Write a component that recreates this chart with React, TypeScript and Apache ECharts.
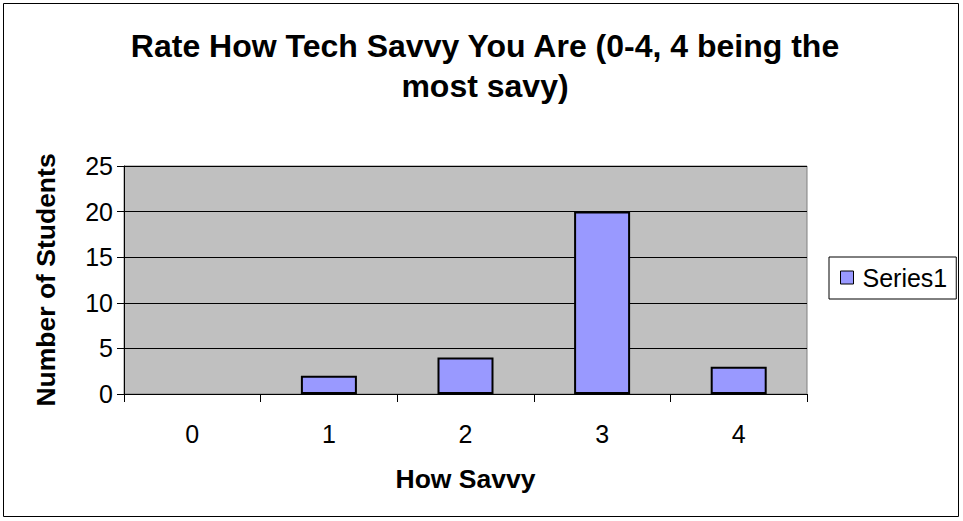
import React, { useEffect, useRef } from "react";
import * as echarts from "echarts";

const categories = ["0", "1", "2", "3", "4"];
const values = [0, 2, 4, 20, 3];
const seriesName = "Series1";
const titleText = "Rate How Tech Savvy You Are (0-4, 4 being the\nmost savy)";
const xName = "How Savvy";
const yName = "Number of Students";

export default function App() {
  const ref = useRef<HTMLDivElement>(null);
  useEffect(() => {
    if (!ref.current) return;
    const chart = echarts.init(ref.current, null, { renderer: "svg" });
    const font = "'Liberation Sans', Arial, sans-serif";
    chart.setOption({
      animation: false,
      backgroundColor: "#fff",
      textStyle: { fontFamily: font },
      title: {
        text: titleText,
        left: 485,
        top: 26,
        textAlign: "center",
        padding: 0,
        textStyle: { fontFamily: font, fontSize: 32, fontWeight: "bold", color: "#000", lineHeight: 40, align: "center" },
      },
      graphic: [
        {
          type: "rect",
          shape: { x: 3.5, y: 3.5, width: 955, height: 513 },
          style: { fill: "none", stroke: "#000", lineWidth: 1 },
          silent: true,
        },
        {
          type: "text",
          x: 46,
          y: 280,
          rotation: Math.PI / 2,
          style: {
            text: yName,
            font: `bold 26.5px ${font}`,
            fill: "#000",
            textAlign: "center",
            textVerticalAlign: "middle",
          },
        },
      ],
      legend: {
        left: 829,
        top: 257,
        padding: [8, 9, 9, 11],
        borderColor: "#000",
        borderWidth: 1,
        backgroundColor: "#fff",
        itemWidth: 13,
        itemHeight: 13,
        icon: "rect",
        textStyle: { fontFamily: font, fontSize: 25, color: "#000", padding: [0, 0, 0, 4] },
        data: [{ name: seriesName, itemStyle: { color: "#9999FF", borderColor: "#000", borderWidth: 1 } }],
      },
      grid: {
        left: 124,
        right: 156,
        top: 166,
        bottom: 127,
        show: true,
        backgroundColor: "#C0C0C0",
        borderColor: "#808080",
        borderWidth: 1,
      },
      xAxis: {
        type: "category",
        data: categories,
        name: xName,
        nameLocation: "middle",
        nameGap: 71,
        nameTextStyle: { fontFamily: font, fontSize: 26.5, fontWeight: "bold", color: "#000" },
        axisLine: { lineStyle: { color: "#000", width: 1 } },
        axisTick: { show: true, length: 8, alignWithLabel: false, lineStyle: { color: "#000" } },
        axisLabel: { fontFamily: font, fontSize: 25, color: "#000", margin: 27 },
      },
      yAxis: {
        type: "value",
        min: 0,
        max: 25,
        interval: 5,
        axisLine: { show: true, lineStyle: { color: "#000", width: 1 } },
        axisTick: { show: true, length: 7, lineStyle: { color: "#000" } },
        axisLabel: { fontFamily: font, fontSize: 25, color: "#000", margin: 11 },
        splitLine: { show: true, lineStyle: { color: "#000", width: 1 } },
      },
      series: [
        {
          name: seriesName,
          type: "bar",
          data: values.map((v) => (v === 0 ? { value: v, itemStyle: { borderWidth: 0, opacity: 0 } } : v)),
          barWidth: "41%",
          itemStyle: { color: "#9999FF", borderColor: "#000", borderWidth: 2 },
        },
      ],
    });
    return () => chart.dispose();
  }, []);
  return <div ref={ref} style={{ width: 963, height: 521, position: "absolute", left: 0, top: 0 }} />;
}
